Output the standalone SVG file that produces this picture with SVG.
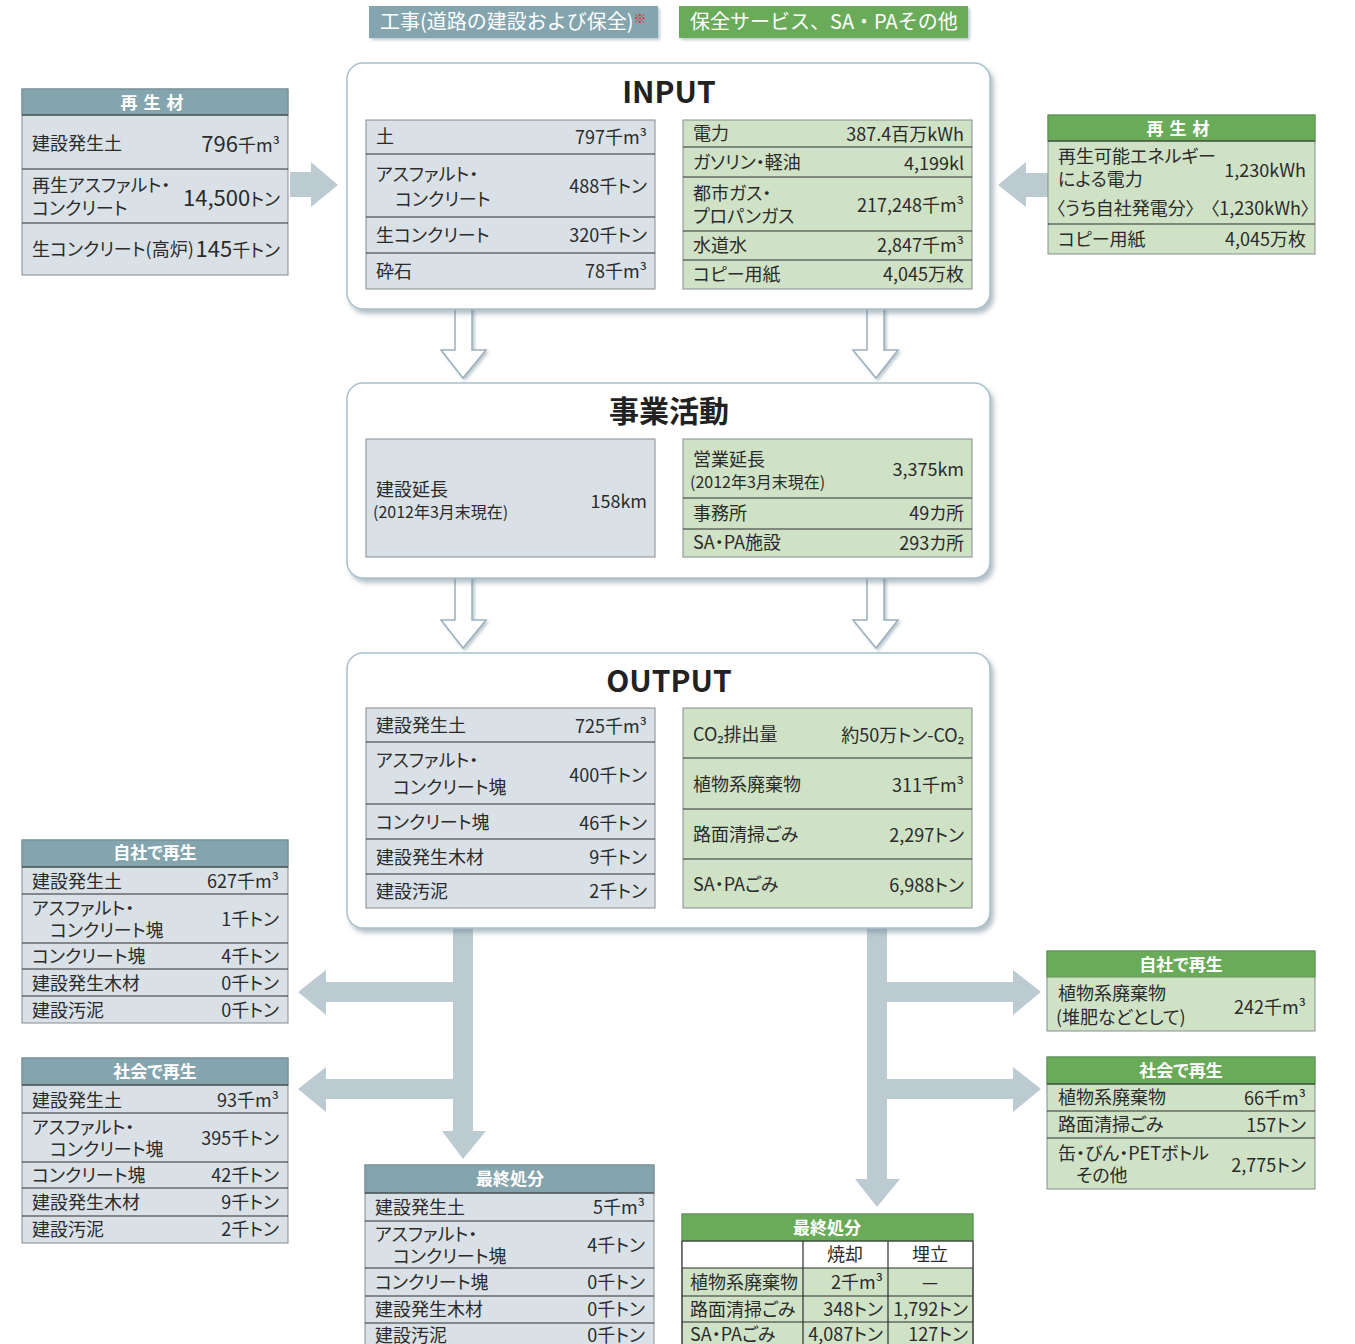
<svg xmlns="http://www.w3.org/2000/svg" width="1355" height="1344" viewBox="0 0 1355 1344">
<defs>
<style>
text { font-family: "Noto Sans CJK JP", "Noto Sans", sans-serif; font-size: 18px; fill: #2b2b2b; font-feature-settings: "palt" 1; }
.v { text-anchor: end; }
.c { text-anchor: middle; }
.h { fill: #ffffff; font-weight: bold; text-anchor: middle; font-size: 17px; }
.s { font-size: 16px; }
.big { font-size: 22px; }
.title { font-weight: bold; font-size: 30px; text-anchor: middle; fill: #222; }
.leg { fill: #ffffff; font-size: 20px; font-feature-settings: normal; }
.gf { fill: #d9e1e6; stroke: #858c90; stroke-width: 1; }
.gnf { fill: #cfe2c6; stroke: #858c90; stroke-width: 1; }
.gh { fill: #84a5ae; stroke: #6f8b94; stroke-width: 1; }
.grh { fill: #6aab5a; stroke: #5a9150; stroke-width: 1; }
.ln { stroke: #2f2f2f; stroke-width: 1.2; fill: none; }
.panel { fill: #ffffff; stroke: #a9c0cc; stroke-width: 1.5; }
.hollow { fill: #ffffff; stroke: none; }
.hollowS { fill: none; stroke: #9ab0bc; stroke-width: 1.5; }
.solid { fill: #bccbd2; }
</style>
<filter id="sh" x="-5%" y="-5%" width="110%" height="115%">
<feDropShadow dx="3" dy="4" stdDeviation="2.5" flood-color="#6f8795" flood-opacity="0.55"/>
</filter>
<filter id="sh2" x="-30%" y="-10%" width="160%" height="130%">
<feDropShadow dx="2" dy="2" stdDeviation="1.5" flood-color="#6f8795" flood-opacity="0.45"/>
</filter>
</defs>
<rect x="0" y="0" width="1355" height="1344" fill="#ffffff"/>

<!-- legend -->
<g id="legend">
<rect x="369" y="6" width="289" height="32" fill="#84a5ae" filter="url(#sh2)"/>
<text x="380" y="29" class="leg">工事(道路の建設および保全)<tspan fill="#e5262b" font-size="13" dy="-6">※</tspan></text>
<rect x="679" y="6" width="289" height="32" fill="#6aab5a" filter="url(#sh2)"/>
<text x="690" y="29" class="leg">保全サービス、SA・PAその他</text>
</g>

<!-- connectors -->
<g id="connectors">
<polygon class="solid" points="290,172 311,172 311,162 338,185 311,207 311,197 290,197"/>
<polygon class="solid" points="1048,173 1026,173 1026,162 998,185 1026,207 1026,197 1048,197"/>
<g filter="url(#sh2)">
<path class="hollow" d="M455,305 L455,350 L441,350 L463,378 L486,350 L472,350 L472,305 Z"/>
<path class="hollowS" d="M455,309 L455,350 L441,350 L463,378 L486,350 L472,350 L472,309"/>
<path class="hollow" d="M867,305 L867,350 L853,350 L876,378 L898,350 L884,350 L884,305 Z"/>
<path class="hollowS" d="M867,309 L867,350 L853,350 L876,378 L898,350 L884,350 L884,309"/>
<path class="hollow" d="M455,574 L455,620 L441,620 L463,648 L486,620 L472,620 L472,574 Z"/>
<path class="hollowS" d="M455,578 L455,620 L441,620 L463,648 L486,620 L472,620 L472,578"/>
<path class="hollow" d="M867,574 L867,620 L853,620 L876,648 L898,620 L884,620 L884,574 Z"/>
<path class="hollowS" d="M867,578 L867,620 L853,620 L876,648 L898,620 L884,620 L884,578"/>
</g>
<path class="solid" d="M453,928 L473,928 L473,1131 L486,1131 L463,1159 L442,1131 L453,1131 L453,1099 L326,1099 L326,1112 L298,1089 L326,1067 L326,1079 L453,1079 L453,1002 L326,1002 L326,1015 L298,992 L326,970 L326,982 L453,982 Z"/>
<path class="solid" d="M867,928 L887,928 L887,982 L1013,982 L1013,970 L1041,992 L1013,1015 L1013,1002 L887,1002 L887,1079 L1013,1079 L1013,1067 L1041,1089 L1013,1112 L1013,1099 L887,1099 L887,1179 L900,1179 L877,1207 L855,1179 L867,1179 Z"/>
</g>

<!-- left recycled materials -->
<g id="left-saiseizai">
<rect class="gf" x="22" y="89" width="266" height="186"/>
<rect class="gh" x="22" y="89" width="266" height="26"/>
<text x="155" y="109" class="h" letter-spacing="6">再生材</text>
<path class="ln" d="M22,115 H288 M22,169 H288 M22,223 H288"/>
<text x="32" y="150">建設発生土</text>
<text x="280" y="152" class="v"><tspan class="big">796</tspan>千m³</text>
<text x="32" y="192">再生アスファルト・</text>
<text x="32" y="215">コンクリート</text>
<text x="280" y="206" class="v"><tspan class="big">14,500</tspan>トン</text>
<text x="32" y="256" font-size="17">生コンクリート(高炉)</text>
<text x="280" y="257" class="v"><tspan class="big">145</tspan>千トン</text>
</g>

<!-- right recycled materials -->
<g id="right-saiseizai">
<rect class="gnf" x="1048" y="115" width="267" height="139"/>
<rect class="grh" x="1048" y="115" width="267" height="26"/>
<text x="1181" y="135" class="h" letter-spacing="6">再生材</text>
<path class="ln" d="M1048,141 H1315 M1048,224 H1315"/>
<text x="1058" y="163" font-size="17">再生可能エネルギー</text>
<text x="1058" y="186" font-size="17">による電力</text>
<text x="1306" y="177" class="v">1,230kWh</text>
<text x="1056" y="215" font-size="17">〈うち自社発電分〉</text>
<text x="1310" y="215" class="v" font-size="17">〈1,230kWh〉</text>
<text x="1058" y="246" font-size="17">コピー用紙</text>
<text x="1306" y="246" class="v">4,045万枚</text>
</g>

<!-- INPUT -->
<g id="input">
<rect class="panel" x="347" y="63" width="643" height="246" rx="16" filter="url(#sh)"/>
<text x="669" y="103" class="title">INPUT</text>
<rect class="gf" x="366" y="120" width="289" height="169"/>
<path class="ln" d="M366,154 H655 M366,217 H655 M366,253 H655"/>
<text x="376" y="143">土</text>
<text x="647" y="144" class="v">797千m³</text>
<text x="376" y="181">アスファルト・</text>
<text x="395" y="206">コンクリート</text>
<text x="647" y="193" class="v">488千トン</text>
<text x="376" y="242">生コンクリート</text>
<text x="647" y="242" class="v">320千トン</text>
<text x="376" y="278">砕石</text>
<text x="647" y="278" class="v">78千m³</text>
<rect class="gnf" x="683" y="120" width="289" height="169"/>
<path class="ln" d="M683,147 H972 M683,177 H972 M683,231 H972 M683,260 H972"/>
<text x="693" y="140">電力</text>
<text x="964" y="141" class="v">387.4百万kWh</text>
<text x="693" y="169">ガソリン・軽油</text>
<text x="964" y="170" class="v">4,199kl</text>
<text x="693" y="200">都市ガス・</text>
<text x="693" y="223">プロパンガス</text>
<text x="964" y="212" class="v">217,248千m³</text>
<text x="693" y="252">水道水</text>
<text x="964" y="252" class="v">2,847千m³</text>
<text x="693" y="281">コピー用紙</text>
<text x="964" y="281" class="v">4,045万枚</text>
</g>

<!-- business activity -->
<g id="jigyo">
<rect class="panel" x="347" y="383" width="643" height="195" rx="16" filter="url(#sh)"/>
<text x="669" y="422" class="title" font-size="28">事業活動</text>
<rect class="gf" x="366" y="439" width="289" height="118"/>
<text x="376" y="496">建設延長</text>
<text x="373" y="518" class="s">(2012年3月末現在)</text>
<text x="647" y="508" class="v">158km</text>
<rect class="gnf" x="683" y="439" width="289" height="118"/>
<path class="ln" d="M683,498 H972 M683,529 H972"/>
<text x="693" y="466">営業延長</text>
<text x="690" y="488" class="s">(2012年3月末現在)</text>
<text x="964" y="476" class="v">3,375km</text>
<text x="693" y="520">事務所</text>
<text x="964" y="520" class="v">49カ所</text>
<text x="693" y="549">SA・PA施設</text>
<text x="964" y="550" class="v">293カ所</text>
</g>

<!-- OUTPUT -->
<g id="output">
<rect class="panel" x="347" y="653" width="643" height="275" rx="16" filter="url(#sh)"/>
<text x="669" y="692" class="title">OUTPUT</text>
<rect class="gf" x="366" y="708" width="289" height="200"/>
<path class="ln" d="M366,742 H655 M366,804 H655 M366,839 H655 M366,874 H655"/>
<text x="376" y="732">建設発生土</text>
<text x="647" y="733" class="v">725千m³</text>
<text x="376" y="767">アスファルト・</text>
<text x="393" y="794">コンクリート塊</text>
<text x="647" y="782" class="v">400千トン</text>
<text x="376" y="829">コンクリート塊</text>
<text x="647" y="830" class="v">46千トン</text>
<text x="376" y="864">建設発生木材</text>
<text x="647" y="864" class="v">9千トン</text>
<text x="376" y="898">建設汚泥</text>
<text x="647" y="898" class="v">2千トン</text>
<rect class="gnf" x="683" y="708" width="289" height="200"/>
<path class="ln" d="M683,758 H972 M683,809 H972 M683,859 H972"/>
<text x="693" y="741">CO₂排出量</text>
<text x="964" y="742" class="v">約50万トン-CO₂</text>
<text x="693" y="791">植物系廃棄物</text>
<text x="964" y="792" class="v">311千m³</text>
<text x="693" y="841">路面清掃ごみ</text>
<text x="964" y="842" class="v">2,297トン</text>
<text x="693" y="891">SA・PAごみ</text>
<text x="964" y="892" class="v">6,988トン</text>
</g>

<!-- left own recycling -->
<g id="left-jisha">
<rect class="gf" x="22" y="840" width="266" height="183"/>
<rect class="gh" x="22" y="840" width="266" height="27"/>
<text x="155" y="859" class="h">自社で再生</text>
<path class="ln" d="M22,867 H288 M22,894 H288 M22,943 H288 M22,969 H288 M22,996 H288"/>
<text x="32" y="888">建設発生土</text>
<text x="279" y="888" class="v">627千m³</text>
<text x="32" y="915">アスファルト・</text>
<text x="50" y="937">コンクリート塊</text>
<text x="279" y="926" class="v">1千トン</text>
<text x="32" y="963">コンクリート塊</text>
<text x="279" y="963" class="v">4千トン</text>
<text x="32" y="990">建設発生木材</text>
<text x="279" y="990" class="v">0千トン</text>
<text x="32" y="1017">建設汚泥</text>
<text x="279" y="1017" class="v">0千トン</text>
</g>

<!-- left society recycling -->
<g id="left-shakai">
<rect class="gf" x="22" y="1058" width="266" height="185"/>
<rect class="gh" x="22" y="1058" width="266" height="27"/>
<text x="155" y="1078" class="h">社会で再生</text>
<path class="ln" d="M22,1085 H288 M22,1113 H288 M22,1162 H288 M22,1188 H288 M22,1216 H288"/>
<text x="32" y="1107">建設発生土</text>
<text x="279" y="1107" class="v">93千m³</text>
<text x="32" y="1134">アスファルト・</text>
<text x="50" y="1156">コンクリート塊</text>
<text x="279" y="1145" class="v">395千トン</text>
<text x="32" y="1182">コンクリート塊</text>
<text x="279" y="1182" class="v">42千トン</text>
<text x="32" y="1209">建設発生木材</text>
<text x="279" y="1209" class="v">9千トン</text>
<text x="32" y="1236">建設汚泥</text>
<text x="279" y="1236" class="v">2千トン</text>
</g>

<!-- right own recycling -->
<g id="right-jisha">
<rect class="gnf" x="1047" y="951" width="268" height="80"/>
<rect class="grh" x="1047" y="951" width="268" height="26"/>
<text x="1181" y="971" class="h">自社で再生</text>
<text x="1058" y="1000">植物系廃棄物</text>
<text x="1056" y="1024">(堆肥などとして)</text>
<text x="1306" y="1014" class="v">242千m³</text>
</g>

<!-- right society recycling -->
<g id="right-shakai">
<rect class="gnf" x="1047" y="1057" width="268" height="132"/>
<rect class="grh" x="1047" y="1057" width="268" height="27"/>
<text x="1181" y="1077" class="h">社会で再生</text>
<path class="ln" d="M1047,1084 H1315 M1047,1111 H1315 M1047,1138 H1315"/>
<text x="1058" y="1104">植物系廃棄物</text>
<text x="1306" y="1105" class="v">66千m³</text>
<text x="1058" y="1131">路面清掃ごみ</text>
<text x="1306" y="1132" class="v">157トン</text>
<text x="1058" y="1160">缶・びん・PETボトル</text>
<text x="1076" y="1182">その他</text>
<text x="1306" y="1172" class="v">2,775トン</text>
</g>

<!-- bottom middle final disposal -->
<g id="mid-saishu">
<rect class="gf" x="365" y="1165" width="289" height="190"/>
<rect class="gh" x="365" y="1165" width="289" height="28"/>
<text x="510" y="1185" class="h">最終処分</text>
<path class="ln" d="M365,1193 H654 M365,1221 H654 M365,1268 H654 M365,1296 H654 M365,1323 H654"/>
<text x="375" y="1214">建設発生土</text>
<text x="645" y="1214" class="v">5千m³</text>
<text x="375" y="1241">アスファルト・</text>
<text x="393" y="1263">コンクリート塊</text>
<text x="645" y="1252" class="v">4千トン</text>
<text x="375" y="1289">コンクリート塊</text>
<text x="645" y="1289" class="v">0千トン</text>
<text x="375" y="1316">建設発生木材</text>
<text x="645" y="1316" class="v">0千トン</text>
<text x="375" y="1342">建設汚泥</text>
<text x="645" y="1342" class="v">0千トン</text>
</g>

<!-- bottom right final disposal -->
<g id="right-saishu">
<rect class="gnf" x="682" y="1214" width="291" height="140"/>
<rect fill="#ffffff" x="682" y="1241" width="291" height="27"/>
<rect class="grh" x="682" y="1214" width="291" height="27"/>
<text x="827" y="1234" class="h">最終処分</text>
<path class="ln" d="M682,1241 H973 M682,1268 H973 M682,1296 H973 M682,1322 H973 M803,1241 V1344 M888,1241 V1344 M682,1241 V1344 M973,1241 V1344"/>
<text x="845" y="1261" class="c">焼却</text>
<text x="930" y="1261" class="c">埋立</text>
<text x="690" y="1289">植物系廃棄物</text>
<text x="883" y="1289" class="v">2千m³</text>
<text x="930" y="1289" class="c">—</text>
<text x="690" y="1316">路面清掃ごみ</text>
<text x="883" y="1316" class="v">348トン</text>
<text x="968" y="1316" class="v">1,792トン</text>
<text x="690" y="1341">SA・PAごみ</text>
<text x="883" y="1341" class="v">4,087トン</text>
<text x="968" y="1341" class="v">127トン</text>
</g>
</svg>
